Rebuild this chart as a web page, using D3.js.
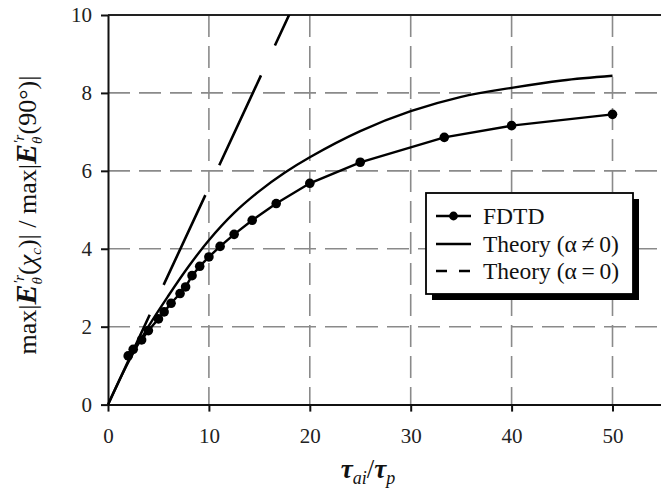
<!DOCTYPE html>
<html>
<head>
<meta charset="utf-8">
<script src="https://cdn.jsdelivr.net/npm/d3@7"></script>
<style>
  body { margin: 0; background: #fff; }
  svg text { font-family: "Liberation Serif", "DejaVu Serif", serif; }
</style>
</head>
<body>
<svg width="661" height="496"></svg>
<script>
// Data
const fdtdX = [2, 2.5, 3.33, 4, 5, 5.56, 6.25, 7.14, 7.69, 8.33, 9.09, 10, 11.11, 12.5, 14.29, 16.67, 20, 25, 33.33, 40, 50];
const fdtdY = [1.25, 1.42, 1.66, 1.9, 2.2, 2.38, 2.6, 2.85, 3.02, 3.31, 3.55, 3.79, 4.06, 4.37, 4.73, 5.16, 5.68, 6.22, 6.86, 7.16, 7.45];

const theoryX = [0, 2, 4, 6, 8, 10, 12.5, 15, 17.5, 20, 25, 30, 35, 40, 45, 50];
const theoryY = [0, 1.08, 2.0, 2.8, 3.55, 4.22, 4.92, 5.48, 5.95, 6.35, 7.02, 7.53, 7.9, 8.13, 8.32, 8.44];

const theory0X = [0, 18];
const theory0Y = [0, 10.03];

const xTicks = [0, 10, 20, 30, 40, 50];
const yTicks = [0, 2, 4, 6, 8, 10];

const legendLabels = ["FDTD", "Theory (\u03b1\u2009\u2260\u20090)", "Theory (\u03b1\u2009=\u20090)"];

const serif = "'Liberation Serif', 'DejaVu Serif', serif";

// The svg
const svg = d3.select("svg");
const margin = { left: 108, top: 15, bottom: 92 };
const height = +svg.attr("height");

const x = d3.scaleLinear().domain([0, 55]).range([margin.left, margin.left + 55 * 10.09]);
const y = d3.scaleLinear().domain([0, 10]).range([height - margin.bottom + 0.6, margin.top]);

// Grid lines
const grid = svg.append("g")
  .attr("stroke", "#8a8a8a")
  .attr("stroke-width", 1.6)
  .attr("stroke-dasharray", "22,9");

grid.selectAll("line.vx")
  .data(xTicks.filter(d => d > 0))
  .join("line")
  .attr("x1", d => x(d)).attr("x2", d => x(d))
  .attr("y1", y(10)).attr("y2", y(0));

grid.selectAll("line.hy")
  .data(yTicks.filter(d => d > 0 && d < 10))
  .join("line")
  .attr("y1", d => y(d)).attr("y2", d => y(d))
  .attr("x1", x(0)).attr("x2", x(55));

// Frame top line
svg.append("line")
  .attr("x1", x(0)).attr("x2", x(55))
  .attr("y1", y(10)).attr("y2", y(10))
  .attr("stroke", "#222")
  .attr("stroke-width", 2);

// Axes
const xAxis = svg.append("g")
  .attr("transform", `translate(0,${y(0)})`)
  .call(d3.axisBottom(x).tickValues(xTicks).tickSize(7).tickPadding(16).tickSizeOuter(0));

const yAxis = svg.append("g")
  .attr("transform", `translate(${x(0)},0)`)
  .call(d3.axisLeft(y).tickValues(yTicks).tickSize(7).tickPadding(9).tickSizeOuter(0));

[xAxis, yAxis].forEach(a => {
  a.attr("font-family", serif);
  a.select(".domain").attr("stroke", "#111").attr("stroke-width", 2);
  a.selectAll(".tick line").attr("stroke", "#111").attr("stroke-width", 2);
  a.selectAll(".tick text")
    .attr("fill", "#222")
    .attr("font-family", serif)
    .attr("font-size", 21);
});

// Theory (alpha = 0): long dashed straight line
svg.append("clipPath").attr("id", "plotclip")
  .append("rect")
  .attr("x", x(0)).attr("y", y(10))
  .attr("width", x(55) - x(0)).attr("height", y(0) - y(10));

const line = d3.line().x(d => x(d[0])).y(d => y(d[1]));

svg.append("path")
  .datum(d3.zip(theory0X, theory0Y))
  .attr("d", line)
  .attr("clip-path", "url(#plotclip)")
  .attr("fill", "none")
  .attr("stroke", "#000")
  .attr("stroke-width", 2.6)
  .attr("stroke-dasharray", "99,33");

// Theory (alpha != 0)
svg.append("path")
  .datum(d3.zip(theoryX, theoryY))
  .attr("d", d3.line().curve(d3.curveCatmullRom).x(d => x(d[0])).y(d => y(d[1])))
  .attr("fill", "none")
  .attr("stroke", "#000")
  .attr("stroke-width", 2.4);

// FDTD line and dots
svg.append("path")
  .datum(d3.zip(fdtdX, fdtdY))
  .attr("d", line)
  .attr("fill", "none")
  .attr("stroke", "#000")
  .attr("stroke-width", 2.4);

svg.selectAll("circle.fdtd")
  .data(d3.zip(fdtdX, fdtdY))
  .join("circle")
  .attr("cx", d => x(d[0]))
  .attr("cy", d => y(d[1]))
  .attr("r", 4.8)
  .attr("fill", "#000");

// Legend with drop shadow
const lg = svg.append("g").attr("transform", "translate(426,193)");
lg.append("rect")
  .attr("x", 6).attr("y", 6)
  .attr("width", 207).attr("height", 101)
  .attr("fill", "#000");
lg.append("rect")
  .attr("width", 207).attr("height", 101)
  .attr("fill", "#fff")
  .attr("stroke", "#000")
  .attr("stroke-width", 1.8);

const rowY = [23, 51, 78];
legendLabels.forEach((label, i) => {
  const ly = rowY[i];
  lg.append("line")
    .attr("x1", 10).attr("x2", 45)
    .attr("y1", ly).attr("y2", ly)
    .attr("stroke", "#000")
    .attr("stroke-width", 2.4)
    .attr("stroke-dasharray", i === 2 ? "11,12" : null);
  if (i === 0) {
    lg.append("circle").attr("cx", 27.5).attr("cy", ly).attr("r", 4.4).attr("fill", "#000");
  }
  lg.append("text")
    .attr("x", 57).attr("y", ly + 8)
    .attr("font-family", serif)
    .attr("font-size", 23.5)
    .attr("fill", "#111")
    .text(label);
});

// X axis title
const xt = svg.append("text")
  .attr("x", 368).attr("y", 478)
  .attr("text-anchor", "middle")
  .attr("font-family", serif)
  .attr("font-size", 27)
  .attr("fill", "#111");
xt.append("tspan").text("\u03c4").attr("font-weight", "bold").attr("font-style", "italic");
xt.append("tspan").text("ai").attr("font-size", 18).attr("font-style", "italic").attr("dy", 6);
xt.append("tspan").text("/").attr("dy", -6);
xt.append("tspan").text("\u03c4").attr("font-weight", "bold").attr("font-style", "italic");
xt.append("tspan").text("p").attr("font-size", 18).attr("font-style", "italic").attr("dy", 6);

// Y axis title
const yt = svg.append("text")
  .attr("transform", "translate(36,215) rotate(-90)")
  .attr("text-anchor", "middle")
  .attr("font-family", serif)
  .attr("font-size", 26)
  .attr("fill", "#111");

function addField(t) {
  t.append("tspan").text("E").attr("font-weight", "bold").attr("font-style", "italic").attr("font-size", 30);
  t.append("tspan").text("\u03b8").attr("font-size", 15).attr("font-style", "italic").attr("dy", 6);
  t.append("tspan").text("\u2032r").attr("font-size", 15).attr("font-style", "italic").attr("dx", -7).attr("dy", -18);
}
yt.append("tspan").text("max|");
addField(yt);
yt.append("tspan").text("(").attr("dy", 12);
yt.append("tspan").text("\u03c7").attr("font-style", "italic");
yt.append("tspan").text("c").attr("font-size", 15).attr("font-style", "italic").attr("dy", 5);
yt.append("tspan").text(")| / max|").attr("dy", -5);
addField(yt);
yt.append("tspan").text("(90\u00b0)|").attr("dy", 12);
</script>
</body>
</html>
